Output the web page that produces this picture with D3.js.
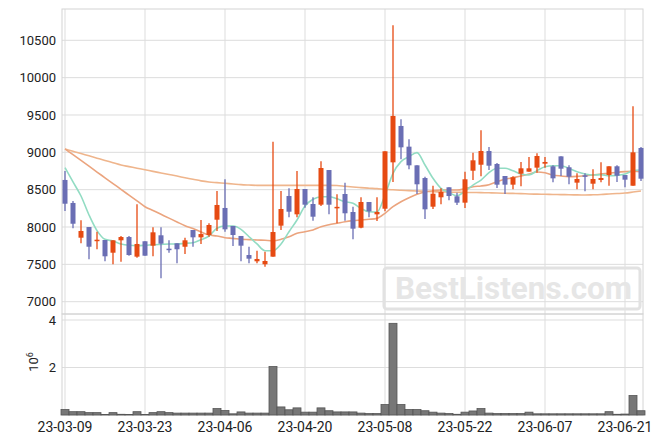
<!DOCTYPE html>
<html>
<head>
<meta charset="utf-8">
<script src="https://cdn.jsdelivr.net/npm/d3@7"></script>
<style>
  html, body { margin: 0; padding: 0; background: #fff; }
  svg { display: block; font-family: Roboto, "Noto Sans", sans-serif; }
</style>
</head>
<body>
<svg id="chart" width="663" height="444"></svg>
<script>
const dates = ["23-03-09","23-03-10","23-03-13","23-03-14","23-03-15","23-03-16","23-03-17","23-03-20","23-03-21","23-03-22",
"23-03-23","23-03-24","23-03-27","23-03-28","23-03-29","23-03-30","23-03-31","23-04-03","23-04-04","23-04-05",
"23-04-06","23-04-07","23-04-10","23-04-11","23-04-12","23-04-13","23-04-14","23-04-17","23-04-18","23-04-19",
"23-04-20","23-04-21","23-04-24","23-04-25","23-04-26","23-04-27","23-04-28","23-05-02","23-05-03","23-05-04",
"23-05-08","23-05-09","23-05-10","23-05-11","23-05-12","23-05-15","23-05-16","23-05-17","23-05-18","23-05-19",
"23-05-22","23-05-23","23-05-24","23-05-25","23-05-26","23-05-30","23-05-31","23-06-01","23-06-02","23-06-05",
"23-06-07","23-06-08","23-06-09","23-06-12","23-06-13","23-06-14","23-06-15","23-06-16","23-06-19","23-06-20",
"23-06-21","23-06-22","23-06-23"];
const openP  = [8630,8322,7857,8000,7822,7826,7656,7822,7866,7603,7809,7750,7889,7710,7782,7736,7960,7862,7893,8098,
8255,8014,7880,7625,7541,7501,7603,8018,8415,8170,8509,8308,8299,8763,8250,8442,8201,7991,8335,8170,
8245,8866,9353,9076,8826,8656,8272,8398,8532,8411,8326,8754,8834,9018,8844,8683,8567,8714,8741,8795,
8848,8813,8946,8800,8594,8692,8580,8630,8696,8813,8696,8553,9058];
const highP  = [8750,8349,8090,8000,7937,7826,7822,7880,7880,8304,7809,7996,7996,7822,7782,7857,7960,8094,8050,8482,
8639,8014,7880,7736,7683,7670,9142,8482,8518,8750,8509,8398,8880,8763,8438,8594,8272,8398,8335,8398,
9014,10701,9442,9174,8826,8674,8553,8518,8532,8460,8741,8996,9295,9071,8857,8683,8679,8870,8937,8987,
8937,8826,8946,8826,8719,8719,8773,8866,8813,8826,8696,9616,9071];
const lowP   = [8214,7983,7782,7568,7702,7541,7501,7536,7616,7589,7616,7608,7313,7656,7514,7639,7736,7773,7870,7947,
7937,7746,7541,7514,7514,7469,7603,7960,8130,8130,8259,8085,8281,8170,8050,8085,7835,7983,8130,8080,
8210,8603,8907,8773,8442,8107,8241,8304,8357,8295,8255,8630,8679,8763,8522,8442,8505,8545,8741,8727,
8795,8598,8683,8572,8505,8478,8505,8598,8553,8603,8532,8553,8616];
const closeP = [8312,8044,7947,7736,7830,7608,7822,7866,7625,7773,7616,7929,7777,7700,7702,7822,7862,7906,8027,8295,
7969,7893,7750,7576,7572,7545,7933,8241,8205,8509,8299,8138,8790,8299,8270,8184,7978,8335,8210,8201,
9014,9487,9067,8826,8572,8237,8446,8469,8415,8326,8639,8893,9018,8821,8567,8567,8666,8786,8786,8951,
8871,8652,8781,8674,8643,8674,8643,8656,8813,8687,8634,9000,8647];
const volume = [0.23,0.14,0.14,0.10,0.10,0.02,0.10,0.03,0.02,0.14,0.02,0.10,0.14,0.10,0.08,0.08,0.08,0.08,0.08,0.27,
0.19,0.05,0.13,0.08,0.08,0.08,2.04,0.34,0.22,0.30,0.12,0.12,0.30,0.18,0.13,0.13,0.13,0.08,0.06,0.06,
0.44,3.86,0.44,0.23,0.23,0.18,0.12,0.08,0.06,0.03,0.12,0.17,0.27,0.08,0.06,0.06,0.06,0.06,0.12,0.05,
0.05,0.05,0.05,0.05,0.05,0.05,0.05,0.05,0.14,0.03,0.04,0.82,0.18];
const ma5  = [8795,8603,8415,8161,7951,7835,7813,7773,7755,7750,7755,7763,7768,7773,7773,7782,7790,7830,7880,7983,
8014,8014,7969,7870,7773,7683,7683,7773,7937,8094,8281,8371,8406,8406,8377,8339,8317,8250,8205,8201,
8429,8719,8875,8942,8996,8830,8652,8518,8460,8419,8480,8562,8629,8727,8786,8786,8754,8710,8696,8754,
8808,8821,8821,8786,8741,8710,8696,8701,8687,8692,8710,8754,8763];
const ma20 = [9045,8968,8891,8814,8736,8659,8582,8504,8427,8350,8272,8221,8170,8119,8068,8018,7980,7933,7893,7880,
7857,7848,7835,7831,7826,7822,7817,7835,7870,7916,7937,7960,8004,8030,8050,8071,8085,8094,8103,8116,
8184,8272,8339,8393,8438,8469,8486,8495,8495,8495,8513,8540,8549,8567,8607,8639,8661,8683,8710,8737,
8727,8696,8683,8674,8678,8687,8696,8710,8719,8732,8741,8746,8741];
const ma60 = [9045,9014,8983,8953,8922,8891,8861,8830,8809,8788,8767,8745,8724,8703,8682,8660,8639,8618,8603,8594,
8585,8576,8567,8562,8558,8558,8558,8558,8558,8558,8558,8558,8558,8558,8556,8545,8535,8527,8520,8514,
8505,8498,8492,8487,8482,8478,8473,8470,8467,8465,8463,8462,8460,8458,8455,8452,8450,8447,8443,8440,
8438,8436,8434,8432,8430,8429,8432,8436,8442,8448,8455,8468,8482];
const priceTicks = [7000,7500,8000,8500,9000,9500,10000,10500];
const volTicks = [2,4];
const dateTicks = ["23-03-09","23-03-23","23-04-06","23-04-20","23-05-08","23-05-22","23-06-07","23-06-21"];

const data = dates.map((d,i)=>({d, o:openP[i], h:highP[i], l:lowP[i], c:closeP[i], v:volume[i], m5:ma5[i], m20:ma20[i], m60:ma60[i]}));

const L = 62, R = 643, T = 9, PB = 314, VB = 415;
const svg = d3.select("#chart");

const x = d3.scalePoint().domain(dates).range([65, 641]);
const y = d3.scaleLinear().domain([7000, 10500]).range([301.7, 40.3]);
const yv = d3.scaleLinear().domain([0, 4]).range([VB, 320]);

const grid = "#dddddd";
// vertical grid
svg.append("g").selectAll("line").data(dateTicks).join("line")
  .attr("x1", d=>x(d)).attr("x2", d=>x(d)).attr("y1", T).attr("y2", VB)
  .attr("stroke", grid).attr("stroke-width", 1);
// price grid
svg.append("g").selectAll("line").data(priceTicks).join("line")
  .attr("x1", L).attr("x2", R).attr("y1", d=>y(d)).attr("y2", d=>y(d))
  .attr("stroke", grid).attr("stroke-width", 1);
// volume grid
svg.append("g").selectAll("line").data(volTicks).join("line")
  .attr("x1", L).attr("x2", R).attr("y1", d=>yv(d)).attr("y2", d=>yv(d))
  .attr("stroke", grid).attr("stroke-width", 1);

// frames
svg.append("rect").attr("x", L).attr("y", T).attr("width", R-L).attr("height", PB-T)
  .attr("fill","none").attr("stroke","#d4d4d4");
svg.append("rect").attr("x", L).attr("y", PB).attr("width", R-L).attr("height", VB-PB)
  .attr("fill","none").attr("stroke","#d4d4d4");

// watermark
const wm = svg.append("g");
wm.append("rect").attr("x", 384).attr("y", 268).attr("width", 256).attr("height", 41).attr("rx", 3)
  .attr("fill","none").attr("stroke","#e2e2e2").attr("stroke-width", 3);
wm.append("text").attr("x", 395).attr("y", 299).text("BestListens.com")
  .attr("font-size", 31).attr("font-weight", "bold").attr("fill", "#e6e6e6")
  .attr("textLength", 237).attr("lengthAdjust","spacingAndGlyphs");

// moving averages
const line = key => d3.line().x(d=>x(d.d)).y(d=>y(d[key])).curve(d3.curveMonotoneX);
svg.append("path").datum(data).attr("d", line("m60")).attr("fill","none").attr("stroke","#efb58c").attr("stroke-width",1.6);
svg.append("path").datum(data).attr("d", line("m20")).attr("fill","none").attr("stroke","#eba47e").attr("stroke-width",1.6);
svg.append("path").datum(data).attr("d", line("m5")).attr("fill","none").attr("stroke","#92dcc3").attr("stroke-width",1.6);

// candles
const up = "#e64a12", down = "#6a6eb4";
const cg = svg.append("g");
cg.selectAll("line").data(data).join("line")
  .attr("x1", d=>x(d.d)).attr("x2", d=>x(d.d)).attr("y1", d=>y(d.h)).attr("y2", d=>y(d.l))
  .attr("stroke", d=>d.c>=d.o?up:down).attr("stroke-width", 1.3);
cg.selectAll("rect").data(data).join("rect")
  .attr("x", d=>x(d.d)-2.5).attr("width", 5)
  .attr("y", d=>y(Math.max(d.o,d.c)))
  .attr("height", d=>Math.max(1.5, Math.abs(y(d.o)-y(d.c))))
  .attr("fill", d=>d.c>=d.o?up:down);

// volume
svg.append("g").selectAll("rect").data(data).join("rect")
  .attr("x", d=>x(d.d)-4).attr("width", 8)
  .attr("y", d=>yv(d.v)).attr("height", d=>VB-yv(d.v))
  .attr("fill","#777").attr("stroke","#555").attr("stroke-width",0.8);

// axes labels
const lab = svg.append("g").attr("font-size", 13).attr("fill", "#222");
lab.selectAll("text.py").data(priceTicks).join("text").attr("class","py")
  .attr("x", 56).attr("y", d=>y(d)).attr("dy","0.36em").attr("text-anchor","end").text(d=>d);
lab.selectAll("text.vy").data(volTicks).join("text").attr("class","vy")
  .attr("x", 56).attr("y", d=>yv(d)).attr("dy","0.36em").attr("text-anchor","end").text(d=>d);
lab.selectAll("text.dx").data(dateTicks).join("text").attr("class","dx")
  .attr("x", d=>x(d)).attr("y", 432).attr("text-anchor","middle").attr("font-size",14).text(d=>d);
const t6 = lab.append("text").attr("transform","translate(38,362) rotate(-90)").attr("text-anchor","middle").attr("font-size",13);
t6.append("tspan").text("10");
t6.append("tspan").attr("dy",-5).attr("font-size",9).text("6");
</script>
</body>
</html>
